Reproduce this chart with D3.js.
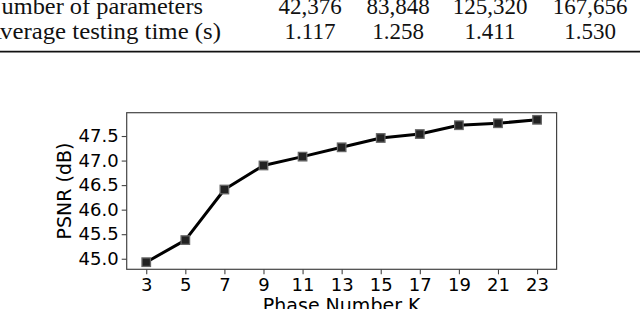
<!DOCTYPE html>
<html><head>
<meta charset="utf-8">
<script src="https://d3js.org/d3.v7.min.js"></script>
<style>
  body { margin: 0; background: #fff; }
  text.tab { font-family: "Liberation Serif", "DejaVu Serif", serif; font-size: 23px; fill: #111; }
  text.tick { font-family: "DejaVu Sans", sans-serif; font-size: 18px; fill: #000; }
  text.lab { font-family: "DejaVu Sans", sans-serif; font-size: 19px; fill: #000; }
</style>
</head>
<body>
<svg id="chart" width="640" height="309"></svg>
<script>
  // table fragment above the figure
  const rowLabels = ["Number of parameters", "Average testing time (s)"];
  const paramCounts = ["42,376", "83,848", "125,320", "167,656"];
  const testTimes = ["1.117", "1.258", "1.411", "1.530"];

  // PSNR vs phase number
  const phases = [3, 5, 7, 9, 11, 13, 15, 17, 19, 21, 23];
  const psnr = [44.93, 45.38, 46.41, 46.90, 47.08, 47.27, 47.46, 47.54, 47.72, 47.76, 47.83];
  const yTicks = [45.0, 45.5, 46.0, 46.5, 47.0, 47.5];

  const svg = d3.select("#chart");

  // ---- table part (only its bottom rows are in view, cropped on the left) ----
  const colX = [310, 398, 490, 590];
  const labelStart = -16;
  const labelLen = [219, 237];   // CM is wider than Liberation, stretch to match
  const rowY = [13.5, 39.3];
  const rows = [paramCounts, testTimes];
  rowLabels.forEach((t, i) => {
    svg.append("text").attr("class", "tab")
      .attr("x", labelStart).attr("y", rowY[i])
      .attr("textLength", labelLen[i]).attr("lengthAdjust", "spacingAndGlyphs")
      .text(t);
    rows[i].forEach((v, j) => {
      svg.append("text").attr("class", "tab")
        .attr("x", colX[j]).attr("y", rowY[i])
        .attr("text-anchor", "middle").text(v);
    });
  });
  svg.append("line").attr("x1", 0).attr("x2", 640).attr("y1", 51.7).attr("y2", 51.7)
    .attr("stroke", "#111").attr("stroke-width", 1.8);

  // ---- plot ----
  const pLeft = 126.7, pRight = 556.6, pTop = 112.7, pBottom = 269.3;

  const pad = (d3.max(psnr) - d3.min(psnr)) * 0.05;
  const x = d3.scaleLinear().domain([2, 24]).range([pLeft, pRight]);
  const y = d3.scaleLinear().domain([d3.min(psnr) - pad, d3.max(psnr) + pad]).range([pBottom, pTop]);

  const xAxis = svg.append("g").attr("transform", `translate(0,${pBottom})`)
    .call(d3.axisBottom(x).tickValues(phases).tickSize(5).tickPadding(4));
  const yAxis = svg.append("g").attr("transform", `translate(${pLeft},0)`)
    .call(d3.axisLeft(y).tickValues(yTicks).tickFormat(d3.format(".1f")).tickSize(5).tickPadding(3));

  [xAxis, yAxis].forEach(g => {
    g.attr("font-size", null).attr("font-family", null);
    g.select(".domain").remove();
    g.selectAll(".tick line").attr("stroke", "#444").attr("stroke-width", 1.1);
    g.selectAll(".tick text").attr("class", "tick");
  });

  // frame
  svg.append("rect").attr("x", pLeft).attr("y", pTop)
    .attr("width", pRight - pLeft).attr("height", pBottom - pTop)
    .attr("fill", "none").attr("stroke", "#444").attr("stroke-width", 1.2);

  const line = d3.line().x((d, i) => x(phases[i])).y(d => y(d));
  svg.append("path").datum(psnr).attr("d", line)
    .attr("fill", "none").attr("stroke", "#000").attr("stroke-width", 3)
    .attr("stroke-linejoin", "round");

  const ms = 8.5;
  svg.selectAll("rect.mk").data(psnr).join("rect").attr("class", "mk")
    .attr("x", (d, i) => x(phases[i]) - ms / 2)
    .attr("y", d => y(d) - ms / 2)
    .attr("width", ms).attr("height", ms)
    .attr("fill", "#222").attr("stroke", "#666").attr("stroke-width", 1.3);

  // axis labels
  svg.append("text").attr("class", "lab")
    .attr("transform", `translate(71,${(pTop + pBottom) / 2}) rotate(-90)`)
    .attr("text-anchor", "middle").text("PSNR (dB)");
  svg.append("text").attr("class", "lab")
    .attr("x", (pLeft + pRight) / 2).attr("y", 312)
    .attr("text-anchor", "middle").text("Phase Number K");
</script>
</body></html>
